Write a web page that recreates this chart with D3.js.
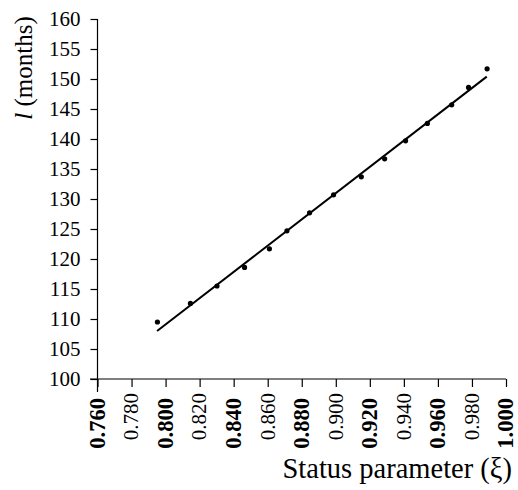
<!DOCTYPE html>
<html><head><meta charset="utf-8">
<script src="https://cdn.jsdelivr.net/npm/d3@7"></script>
<style>body{margin:0;background:#fff}svg{display:block}</style>
</head><body>
<svg id="c" width="518" height="490"></svg>
<script>
// ---- data ----
const xi = [0.7952,0.8146,0.8302,0.8464,0.8610,0.8713,0.8846,0.8987,0.9150,0.9287,0.9410,0.9538,0.9681,0.9780,0.9889];
const months = [109.5,112.6,115.5,118.6,121.7,124.7,127.7,130.7,133.7,136.7,139.7,142.6,145.7,148.6,151.7];
const fitX = [0.795, 0.9887];
const fitY = [108.0, 150.4];
const xTicks = [0.76,0.78,0.80,0.82,0.84,0.86,0.88,0.90,0.92,0.94,0.96,0.98,1.00];
const xBold = [true,false,true,false,true,false,true,false,true,false,true,false,true];
const yTicks = [100,105,110,115,120,125,130,135,140,145,150,155,160];

const svg = d3.select("#c");
const font = "'Liberation Serif','Times New Roman',serif";
const x = d3.scaleLinear().domain([0.76,1.0]).range([97.5,506]);
const y = d3.scaleLinear().domain([100,160]).range([379,19]);

// y axis
const ya = svg.append("g").attr("transform","translate(97.5,0)")
  .call(d3.axisLeft(y).tickValues(yTicks).tickSize(7).tickPadding(10).tickSizeOuter(0));
ya.select(".domain").attr("d","M0,19V392").attr("stroke","#000").attr("stroke-width",1.2);
ya.selectAll(".tick line").attr("stroke","#000").attr("stroke-width",1.2);
ya.selectAll(".tick text").attr("font-family",font).attr("font-size",21).attr("fill","#000");

// x axis
const xa = svg.append("g").attr("transform","translate(0,379)")
  .call(d3.axisBottom(x).tickValues(xTicks).tickSize(8).tickSizeOuter(0).tickFormat(d3.format(".3f")));
xa.select(".domain").attr("d","M90,0H506").attr("stroke","#000").attr("stroke-width",1.2);
xa.selectAll(".tick line").attr("stroke","#000").attr("stroke-width",1.2);
xa.selectAll(".tick text")
  .attr("font-family",font)
  .attr("fill","#000")
  .attr("font-weight",(d,i)=>xBold[i]?"bold":"normal")
  .attr("font-size",(d,i)=>xBold[i]?22.5:21)
  .attr("text-anchor","end")
  .attr("transform","rotate(-90)")
  .attr("x",(d,i)=>xBold[i]?-19:-14)
  .attr("y",0)
  .attr("dy","0.3em");

// fit line
svg.append("line")
  .attr("x1",x(fitX[0])).attr("y1",y(fitY[0]))
  .attr("x2",x(fitX[1])).attr("y2",y(fitY[1]))
  .attr("stroke","#000").attr("stroke-width",2);

// points
svg.selectAll("circle.p").data(xi).enter().append("circle")
  .attr("cx",d=>x(d)).attr("cy",(d,i)=>y(months[i])).attr("r",2.6).attr("fill","#000");

// labels
const yl = svg.append("text").attr("transform","translate(32,68) rotate(-90)")
  .attr("text-anchor","middle").attr("font-family",font).attr("font-size",25).attr("fill","#000");
yl.append("tspan").attr("font-style","italic").text("l");
yl.append("tspan").text(" (months)");

svg.append("text").attr("x",512).attr("y",478).attr("text-anchor","end")
  .attr("font-family",font).attr("font-size",28.5).attr("fill","#000")
  .text("Status parameter (ξ)");
</script>
</body></html>
